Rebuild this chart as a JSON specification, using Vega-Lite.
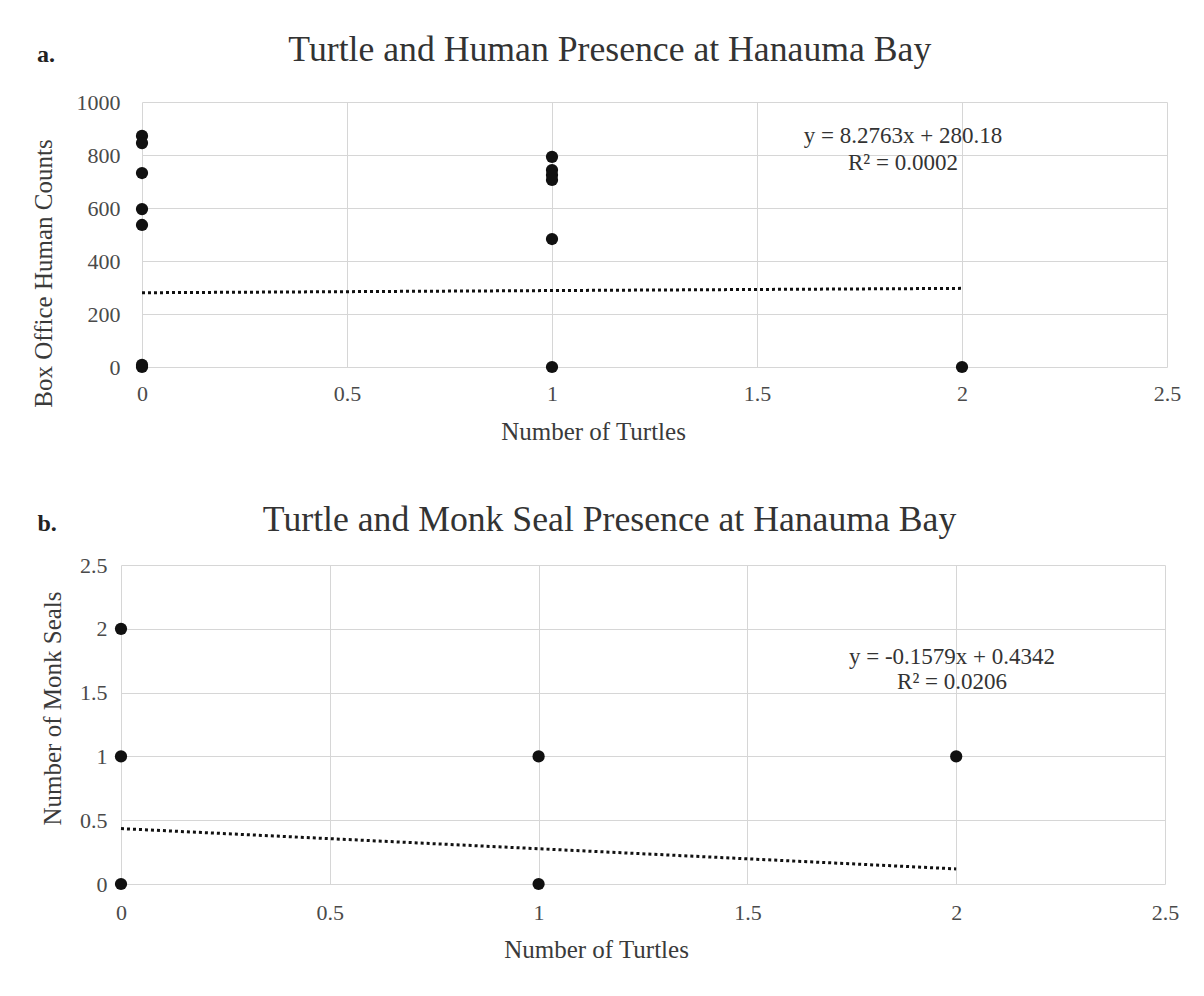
{
  "$schema": "https://vega.github.io/schema/vega-lite/v6.json",
  "background": "white",
  "padding": {"left": 31, "top": 32, "right": 10, "bottom": 5},
  "spacing": 57,
  "config": {
    "font": "Liberation Serif",
    "view": {"stroke": null},
    "axis": {
      "domain": false,
      "ticks": false,
      "gridColor": "#d6d6d6",
      "gridWidth": 1,
      "labelFont": "Liberation Serif",
      "labelFontSize": 22,
      "labelColor": "#4a4a4a",
      "titleFont": "Liberation Serif",
      "titleFontSize": 25,
      "titleFontWeight": "normal",
      "titleColor": "#3a3a3a"
    }
  },
  "datasets": {
    "humans": [
      {"turtles": 0, "humans": 872},
      {"turtles": 0, "humans": 845},
      {"turtles": 0, "humans": 732},
      {"turtles": 0, "humans": 596},
      {"turtles": 0, "humans": 536},
      {"turtles": 0, "humans": 0},
      {"turtles": 0, "humans": 8},
      {"turtles": 1, "humans": 793},
      {"turtles": 1, "humans": 743},
      {"turtles": 1, "humans": 725},
      {"turtles": 1, "humans": 706},
      {"turtles": 1, "humans": 483},
      {"turtles": 1, "humans": 0},
      {"turtles": 2, "humans": 0}
    ],
    "humanFit": [
      {"turtles": 0, "humans": 280.18},
      {"turtles": 2, "humans": 296.73}
    ],
    "seals": [
      {"turtles": 0, "seals": 2},
      {"turtles": 0, "seals": 1},
      {"turtles": 0, "seals": 0},
      {"turtles": 1, "seals": 1},
      {"turtles": 1, "seals": 0},
      {"turtles": 2, "seals": 1}
    ],
    "sealFit": [
      {"turtles": 0, "seals": 0.4342},
      {"turtles": 2, "seals": 0.1184}
    ]
  },
  "vconcat": [
    {
      "width": 1025,
      "height": 265,
      "layer": [
        {
          "data": {"name": "humans"},
          "mark": {"type": "point", "filled": true, "size": 150, "color": "#111111", "opacity": 1},
          "encoding": {
            "x": {"field": "turtles", "type": "quantitative", "scale": {"domain": [0, 2.5], "nice": false, "zero": false},
              "axis": {"values": [0, 0.5, 1, 1.5, 2, 2.5], "format": "~g", "title": "Number of Turtles", "labelFlush": false, "labelPadding": 16, "titlePadding": 15, "titleX": 451}},
            "y": {"field": "humans", "type": "quantitative", "scale": {"domain": [0, 1000], "nice": false},
              "axis": {"values": [0, 200, 400, 600, 800, 1000], "format": "d", "title": "Box Office Human Counts", "labelPadding": 22, "titlePadding": 20, "titleY": 171}}
          }
        },
        {
          "data": {"name": "humanFit"},
          "mark": {"type": "line", "color": "#111111", "strokeWidth": 3, "strokeDash": [3, 3]},
          "encoding": {
            "x": {"field": "turtles", "type": "quantitative"},
            "y": {"field": "humans", "type": "quantitative"}
          }
        },
        {
          "data": {"values": [{}]},
          "mark": {"type": "text", "fontSize": 23, "color": "#333333", "lineHeight": 27, "align": "center", "baseline": "middle"},
          "encoding": {
            "x": {"datum": 1.856},
            "y": {"datum": 872},
            "text": {"value": ["y = 8.2763x + 280.18", "R² = 0.0002"]}
          }
        },
        {
          "data": {"values": [{}]},
          "mark": {"type": "text", "fontSize": 35.7, "color": "#333333", "align": "center", "baseline": "middle"},
          "encoding": {
            "x": {"datum": 1.141},
            "y": {"datum": 1196},
            "text": {"value": "Turtle and Human Presence at Hanauma Bay"}
          }
        },
        {
          "data": {"values": [{}]},
          "mark": {"type": "text", "fontSize": 24, "fontWeight": "bold", "color": "#222222", "align": "center", "baseline": "middle"},
          "encoding": {
            "x": {"datum": -0.234},
            "y": {"datum": 1177},
            "text": {"value": "a."}
          }
        }
      ]
    },
    {
      "width": 1023,
      "height": 319,
      "layer": [
        {
          "data": {"name": "seals"},
          "mark": {"type": "point", "filled": true, "size": 150, "color": "#111111", "opacity": 1},
          "encoding": {
            "x": {"field": "turtles", "type": "quantitative", "scale": {"domain": [0, 2.5], "range": [-21, 1023], "nice": false, "zero": false},
              "axis": {"values": [0, 0.5, 1, 1.5, 2, 2.5], "format": "~g", "title": "Number of Turtles", "labelFlush": false, "labelPadding": 18, "titlePadding": 14, "titleX": 454}},
            "y": {"field": "seals", "type": "quantitative", "scale": {"domain": [0, 2.5], "nice": false},
              "axis": {"values": [0, 0.5, 1, 1.5, 2, 2.5], "format": "~g", "title": "Number of Monk Seals", "labelPadding": 35, "titlePadding": 14, "titleY": 143}}
          }
        },
        {
          "data": {"name": "sealFit"},
          "mark": {"type": "line", "color": "#111111", "strokeWidth": 3, "strokeDash": [3, 3]},
          "encoding": {
            "x": {"field": "turtles", "type": "quantitative"},
            "y": {"field": "seals", "type": "quantitative"}
          }
        },
        {
          "data": {"values": [{}]},
          "mark": {"type": "text", "fontSize": 23, "color": "#333333", "lineHeight": 25, "align": "center", "baseline": "middle"},
          "encoding": {
            "x": {"datum": 1.99},
            "y": {"datum": 1.779},
            "text": {"value": ["y = -0.1579x + 0.4342", "R² = 0.0206"]}
          }
        },
        {
          "data": {"values": [{}]},
          "mark": {"type": "text", "fontSize": 35.7, "color": "#333333", "align": "center", "baseline": "middle"},
          "encoding": {
            "x": {"datum": 1.17},
            "y": {"datum": 2.853},
            "text": {"value": "Turtle and Monk Seal Presence at Hanauma Bay"}
          }
        },
        {
          "data": {"values": [{}]},
          "mark": {"type": "text", "fontSize": 24, "fontWeight": "bold", "color": "#222222", "align": "center", "baseline": "middle"},
          "encoding": {
            "x": {"datum": -0.177},
            "y": {"datum": 2.82},
            "text": {"value": "b."}
          }
        }
      ]
    }
  ]
}
